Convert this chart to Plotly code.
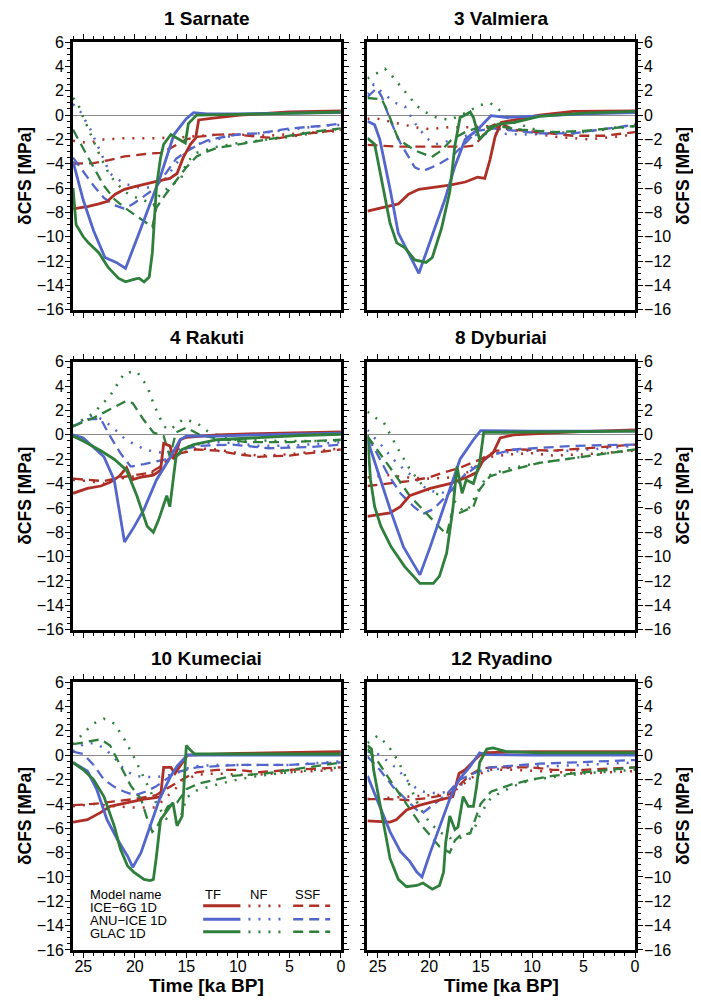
import plotly.graph_objects as go

# ---------------- data (time [ka BP], dCFS [MPa]) ----------------
SITES = ["1 Sarnate", "3 Valmiera", "4 Rakuti", "8 Dyburiai", "10 Kumeciai", "12 Ryadino"]
MODELS = ["ICE−6G 1D", "ANU−ICE 1D", "GLAC 1D"]
FAULTS = ["TF", "NF", "SSF"]
X_TICKS = [25, 20, 15, 10, 5, 0]
Y_TICKS = [6, 4, 2, 0, -2, -4, -6, -8, -10, -12, -14, -16]

# 1 Sarnate
SAR_ICE_TF = [(26,-7.7),(24.5,-7.5),(23.5,-7.3),(22.7,-7.1),(21.9,-6.5),(21,-6.1),(20.1,-5.9),(19,-5.7),(17.9,-5.45),(16.6,-5.2),(15.9,-4.8),(15.3,-3.5),(14.6,-2.4),(14.1,-1.9),(13.8,-0.4),(12.4,-0.25),(9.8,0.0),(5,0.25),(0,0.35)]
SAR_ANU_TF = [(26,-3.8),(25,-7.0),(24,-9.5),(22.9,-11.7),(21.8,-12.1),(20.9,-12.6),(19.5,-9.5),(18.5,-7.3),(17.5,-5.0),(16.2,-1.6),(15,-0.3),(14.3,0.2),(13,0.1),(10,0.1),(5,0.15),(0,0.2)]
SAR_GLAC_TF = [(26,-6.0),(25.7,-9.0),(25,-10.0),(24.5,-10.5),(23.5,-11.3),(22.6,-12.5),(21.6,-13.4),(20.9,-13.7),(20.1,-13.5),(19.6,-13.4),(19.1,-13.7),(18.6,-13.3),(18.3,-11.3),(17.9,-5.9),(17.5,-3.5),(17.2,-2.4),(16.5,-1.6),(15.1,-2.3),(14.8,-0.7),(14.0,0.0),(10,0.05),(5,0.15),(0,0.25)]
SAR_ICE_NF = [(26,-2.1),(25,-2.2),(24.5,-2.3),(23,-2.0),(21,-1.9),(18,-1.9),(15,-1.8),(12,-1.6),(10,-1.6),(7,-1.7),(4,-1.5),(0,-1.3)]
SAR_ANU_NF = [(26,0.9),(25.3,0.3),(24.3,-1.2),(23.3,-3.1),(22.4,-4.8),(21.1,-5.6),(20,-5.9),(19,-6.0),(18,-5.8),(17,-5.2),(16,-4.0),(15,-3.0),(14,-2.4),(12,-2.0),(10,-1.6),(8,-1.5),(5,-1.2),(2,-0.9),(0,-0.8)]
SAR_GLAC_NF = [(26,1.4),(25.6,1.1),(25.1,0.0),(24.3,-1.6),(23.3,-3.5),(22.4,-5.0),(21,-6.3),(20.1,-6.7),(19.1,-7.0),(18.2,-7.4),(17.6,-6.6),(16.8,-6.0),(16,-5.5),(15.5,-5.2),(15,-3.9),(14,-3.1),(12,-2.6),(10,-2.3),(8,-2.1),(5,-1.8),(2,-1.4),(0,-1.1)]
SAR_ICE_SSF = [(26,-4.0),(24,-3.95),(22.5,-3.7),(21,-3.4),(19,-3.2),(17.5,-3.1),(16.5,-2.7),(15.5,-2.2),(15,-2.0),(14,-1.8),(12,-1.6),(10,-1.6),(8,-1.8),(6,-1.9),(4,-1.6),(0,-1.2)]
SAR_ANU_SSF = [(26,-3.5),(25,-4.7),(24,-5.8),(23,-6.8),(22,-7.4),(21,-7.7),(20,-7.2),(19,-6.6),(18,-6.0),(17,-4.8),(16,-3.6),(15,-3.0),(14,-2.5),(13,-2.1),(12,-1.9),(10,-1.6),(8,-1.5),(5,-1.1),(2,-0.9),(0,-0.7)]
SAR_GLAC_SSF = [(26,-1.2),(25,-2.8),(24,-4.3),(23,-5.8),(22,-6.9),(21,-7.6),(20,-8.2),(19,-8.8),(18.3,-9.2),(17.9,-7.6),(17,-6.5),(16,-5.4),(15,-4.3),(14,-3.4),(13,-3.0),(12,-2.7),(10,-2.4),(8,-2.1),(5,-1.7),(2,-1.3),(0,-1.1)]

# 3 Valmiera
VAL_ICE_TF = [(26,-7.9),(24.4,-7.6),(23,-7.3),(22,-6.5),(21,-6.1),(18,-5.75),(16.5,-5.5),(15.3,-5.1),(14.6,-5.2),(14.1,-3.7),(13.6,-1.8),(13,-0.6),(11.8,-0.4),(9.3,0.0),(6,0.3),(0,0.35)]
VAL_ANU_TF = [(26,-0.5),(25.3,-0.8),(24.8,-2.0),(23.8,-6.1),(23,-9.7),(22,-11.3),(21,-13.0),(19.75,-10.0),(18.5,-7.0),(17.5,-4.2),(16.5,-2.0),(15.3,-1.2),(14,-0.05),(12.4,-0.2),(9.5,-0.1),(5,0.1),(0,0.2)]
VAL_GLAC_TF = [(26,-1.9),(25.3,-2.4),(23.8,-8.9),(23.15,-10.5),(22.35,-10.9),(21.4,-11.9),(20.3,-12.1),(19.7,-11.7),(18.8,-9.3),(18,-6.3),(17.5,-2.5),(17,-0.2),(16.5,0.0),(16,0.25),(15.7,-0.2),(15.1,-2.0),(14.3,-1.3),(13.3,-0.75),(11.7,-0.6),(9.3,-0.1),(5,0.15),(0,0.3)]
VAL_ICE_NF = [(26,-0.3),(25,-0.3),(23.5,-0.6),(21.4,-1.0),(20,-1.15),(18,-1.0),(16,-1.0),(14,-0.9),(12,-1.2),(9,-1.6),(7.6,-1.8),(4.4,-2.0),(2,-1.8),(0,-1.6)]
VAL_ANU_NF = [(26,1.7),(25.4,2.5),(24.5,1.8),(23.3,1.0),(22.35,0.7),(21.4,-0.65),(20.25,-1.9),(19.4,-2.4),(18,-2.1),(16.4,-1.7),(14,-1.5),(10.8,-1.6),(6,-1.5),(0,-0.8)]
VAL_GLAC_NF = [(26,3.0),(25.1,3.45),(24.3,3.8),(23.7,3.3),(23,2.6),(22.35,1.9),(21.2,0.75),(20.4,0.25),(19.3,-0.2),(18,-0.4),(16.4,0.2),(15.1,0.8),(14.1,1.0),(13.3,0.5),(11.8,-0.6),(9.3,-1.3),(6,-1.5),(0,-0.9)]
VAL_ICE_SSF = [(26,-2.45),(23,-2.6),(20,-2.6),(16.5,-2.6),(15.6,-2.5),(15,-1.9),(14.2,-1.0),(13.2,-0.6),(11.8,-1.2),(9.3,-1.4),(6,-1.7),(3,-1.7),(0,-1.4)]
VAL_ANU_SSF = [(26,1.5),(25.1,2.2),(24.6,1.5),(23.8,-0.4),(22.8,-2.3),(21.4,-4.3),(20.6,-4.6),(19.2,-4.1),(17.8,-3.4),(16.5,-2.3),(15.3,-1.3),(13.8,-1.1),(9.3,-1.5),(6,-1.5),(0,-0.8)]
VAL_GLAC_SSF = [(26,1.4),(24.6,1.3),(24,0.2),(23,-2.0),(21.4,-2.9),(19.75,-3.45),(18.8,-2.9),(17.8,-2.0),(16.5,-1.4),(15.5,-1.1),(13.5,-0.9),(11,-1.2),(8,-1.4),(5,-1.3),(0,-0.9)]

# 4 Rakuti
RAK_ICE_TF = [(26,-4.8),(24.6,-4.4),(23.3,-4.2),(22.4,-3.9),(21.5,-3.4),(20.8,-2.7),(20.3,-3.7),(19.5,-3.5),(18.2,-3.3),(17.5,-2.9),(17.2,-0.7),(16.6,-0.9),(16.2,-2.0),(15.6,-0.4),(15,-0.2),(12,0.0),(8,0.1),(4,0.2),(0,0.25)]
RAK_ANU_TF = [(26,0.0),(25,-0.25),(23,-1.8),(22,-3.7),(21,-8.8),(20.1,-7.6),(19.1,-6.1),(17.9,-3.7),(16.6,-1.9),(15.6,-0.4),(15,-0.1),(12,-0.1),(8,0.0),(4,0.1),(0,0.15)]
RAK_GLAC_TF = [(26,-0.1),(25,-0.5),(23.3,-1.3),(22,-2.0),(20.8,-2.9),(19.8,-5.0),(18.8,-7.5),(18.2,-8.0),(17.7,-7.0),(17.3,-5.9),(16.9,-5.0),(16.6,-5.9),(16.2,-3.1),(16,-1.8),(15.4,-1.2),(14.3,-0.8),(12,-0.4),(8,-0.2),(4,-0.05),(0,0.05)]
RAK_ICE_NF = [(26,-3.7),(24.5,-3.8),(23,-4.0),(21.5,-3.6),(20,-3.4),(18.5,-3.2),(17.5,-2.8),(16.6,-2.0),(15.5,-1.5),(14,-1.1),(12,-1.2),(10,-1.5),(8,-1.7),(5,-1.6),(2,-1.3),(0,-1.1)]
RAK_ANU_NF = [(26,0.7),(25,1.3),(24,1.6),(23,1.2),(22,0.5),(21,-0.3),(20,-0.8),(19,-1.2),(18,-1.4),(17,-1.5),(16,-1.3),(15,-1.0),(14,-0.8),(12,-0.6),(10,-0.7),(8,-0.9),(5,-0.9),(0,-0.6)]
RAK_GLAC_NF = [(26,0.7),(24,1.8),(22.4,3.2),(21,5.1),(19.8,5.2),(18.8,4.0),(18.2,2.6),(17.2,0.7),(16.6,0.4),(15.3,1.3),(14,1.0),(12.8,0.2),(10.5,-0.4),(6,-0.5),(0,-0.5)]
RAK_ICE_SSF = [(26,-3.6),(24.5,-3.7),(23,-3.8),(21.5,-3.5),(20,-3.3),(18.5,-3.1),(17.5,-2.6),(16.6,-1.9),(15.5,-1.5),(14,-1.2),(12,-1.3),(10,-1.6),(8,-1.8),(5,-1.7),(2,-1.4),(0,-1.2)]
RAK_ANU_SSF = [(26,0.7),(24.6,1.3),(23.3,1.3),(22.4,-0.1),(21.4,-1.5),(20.4,-2.6),(19.1,-2.4),(17.9,-2.2),(16.9,-2.0),(16,-1.8),(15,-1.1),(13.7,-0.9),(10.5,-0.8),(7,-1.1),(3,-1.0),(0,-0.8)]
RAK_GLAC_SSF = [(26,0.7),(24,1.4),(22.4,2.1),(20.8,2.8),(20.2,2.6),(19.2,1.3),(18.2,0.2),(17.2,-0.1),(16.6,-1.8),(16,0.2),(15,0.6),(13.7,0.0),(12,-0.3),(9,-0.6),(5,-0.6),(0,-0.4)]

# 8 Dyburiai
DYB_ICE_TF = [(26,-6.7),(23.8,-6.4),(22.8,-5.9),(21.9,-5.0),(19.9,-4.4),(18,-4.0),(16.4,-3.5),(15.4,-3.1),(14.7,-2.0),(13.8,-1.5),(13.1,-0.25),(11.8,0.0),(6,0.25),(0,0.4)]
DYB_ANU_TF = [(26,-0.4),(25.1,-2.8),(23.8,-6.1),(22.5,-9.2),(20.9,-11.5),(19.9,-9.2),(18.3,-5.3),(17,-2.0),(15.7,-0.4),(15,0.35),(10,0.3),(5,0.3),(0,0.3)]
DYB_GLAC_TF = [(26,0.0),(25.7,-3.7),(25.3,-5.9),(24.7,-7.5),(23.7,-9.2),(22.4,-10.8),(20.9,-12.2),(19.6,-12.2),(19,-11.6),(18.3,-9.7),(17.7,-6.1),(17.3,-2.6),(16.8,-4.8),(16.4,-3.7),(15.7,-4.0),(15.1,-2.3),(14.7,0.2),(10,0.25),(0,0.3)]
DYB_ICE_NF = [(26,-3.5),(24,-3.3),(22,-3.5),(20,-3.6),(18,-3.5),(16,-3.0),(15,-2.2),(14,-1.8),(12,-1.6),(10,-1.5),(8,-1.7),(5,-1.6),(0,-1.3)]
DYB_ANU_NF = [(26,0.4),(25.6,0.0),(24.8,-0.7),(23.5,-2.0),(22.5,-2.8),(21.2,-3.7),(20.2,-4.5),(18.9,-4.8),(17.6,-4.5),(16.4,-3.1),(15,-2.0),(13.4,-1.5),(10.7,-1.3),(6,-1.3),(0,-0.9)]
DYB_GLAC_NF = [(26,1.9),(25.4,1.5),(24.4,1.0),(23.2,-0.9),(21.9,-2.8),(20.6,-4.2),(19.6,-4.8),(18.3,-5.0),(17.3,-5.6),(16.7,-6.3),(16,-5.9),(15.4,-4.8),(14.4,-3.4),(12.5,-2.8),(9.3,-2.3),(6,-1.9),(0,-1.2)]
DYB_ICE_SSF = [(26,-4.2),(24,-4.0),(22,-3.8),(20,-3.5),(19,-3.2),(17,-2.7),(15,-2.0),(13.5,-1.3),(11,-1.2),(8,-1.3),(5,-1.1),(0,-0.8)]
DYB_ANU_SSF = [(26,-0.2),(25.4,-1.0),(24.1,-3.1),(22.8,-4.8),(21.5,-5.9),(20.6,-6.5),(19.6,-6.1),(18.3,-5.0),(16.7,-3.4),(15.4,-2.6),(14.1,-1.7),(11.8,-1.2),(6,-0.9),(0,-0.8)]
DYB_GLAC_SSF = [(26,-0.1),(24.8,-1.5),(23.2,-3.4),(21.9,-5.0),(20.3,-6.4),(19,-7.5),(18.3,-8.2),(17.7,-6.1),(17,-6.4),(15.7,-5.9),(15.1,-4.5),(14.1,-3.4),(12.5,-3.0),(9.3,-2.3),(6,-1.9),(0,-1.2)]

# 10 Kumeciai
KUM_ICE_TF = [(26,-5.5),(24.6,-5.3),(23.3,-4.7),(22.4,-4.2),(20.7,-3.9),(19.1,-3.6),(18.1,-3.5),(17.5,-3.4),(17.2,-1.0),(16.5,-1.0),(16.1,-1.5),(15.5,-0.7),(14.9,0.0),(10,0.15),(5,0.25),(0,0.3)]
KUM_ANU_TF = [(26,-0.6),(24.6,-1.3),(23.7,-2.8),(22.7,-5.3),(21.7,-6.9),(20.7,-8.3),(20.2,-9.2),(19.4,-8.0),(18.5,-5.8),(17.6,-3.6),(16.5,-1.7),(15.9,-0.9),(14.9,0.0),(10,0.0),(0,0.0)]
KUM_GLAC_TF = [(26,-0.6),(25,-1.2),(24,-2.0),(23,-3.4),(22,-5.8),(21.4,-7.7),(20.7,-9.1),(20.1,-9.6),(19.1,-10.2),(18.5,-10.3),(18.2,-10.2),(17.9,-8.3),(17.5,-5.3),(16.8,-4.5),(16.3,-3.9),(15.9,-5.8),(15.4,-5.0),(15,0.8),(14.7,0.5),(14.2,0.1),(10,0.1),(0,0.1)]
KUM_ICE_NF = [(26,-4.2),(24,-4.0),(22,-4.2),(20,-4.3),(18,-4.3),(17,-3.5),(16,-2.7),(15,-2.0),(14,-1.6),(12,-1.5),(10,-1.6),(8,-1.6),(5,-1.4),(0,-1.2)]
KUM_ANU_NF = [(26,0.3),(25,0.9),(24,1.0),(23,0.6),(22,-0.2),(21,-1.2),(20,-1.7),(19,-1.8),(18,-1.8),(17,-1.7),(16,-1.5),(15,-1.1),(14,-0.9),(12,-0.8),(10,-0.8),(8,-0.8),(5,-0.8),(0,-0.5)]
KUM_GLAC_NF = [(26,0.9),(25,1.8),(24,2.6),(23,3.0),(22,2.6),(21,1.3),(20,-0.3),(19,-2.0),(18,-3.8),(17,-5.2),(16,-5.5),(15.5,-5.0),(15,-3.5),(14,-2.9),(12,-2.4),(10,-2.0),(8,-1.7),(5,-1.4),(0,-1.0)]
KUM_ICE_SSF = [(26,-4.1),(24,-4.0),(22,-3.8),(20,-3.6),(18,-3.3),(17,-2.8),(16,-2.3),(15,-1.8),(14,-1.4),(12,-1.2),(10,-1.2),(8,-1.4),(5,-1.2),(0,-1.0)]
KUM_ANU_SSF = [(26,0.3),(25,0.1),(24,-0.8),(23,-2.0),(22,-2.6),(21,-3.0),(20,-3.3),(19,-3.0),(18,-2.6),(17,-2.0),(16,-1.4),(15,-1.2),(14,-1.0),(12,-0.9),(10,-0.8),(8,-0.8),(5,-0.8),(0,-0.6)]
KUM_GLAC_SSF = [(26,0.9),(24.6,1.1),(23.3,1.3),(22.4,0.8),(21.4,-0.9),(20.4,-2.5),(19.4,-3.6),(18.8,-5.2),(18.3,-6.3),(17.8,-5.8),(16.8,-4.2),(15.9,-3.9),(15,-2.8),(13.7,-2.3),(10.5,-1.7),(7.3,-1.5),(0,-0.6)]

# 12 Ryadino
RYA_ICE_TF = [(26,-5.4),(23.8,-5.5),(23.2,-5.3),(22.2,-4.5),(20.9,-4.1),(19,-3.7),(17.7,-3.4),(17.1,-1.5),(16.5,-1.2),(15.7,-0.5),(15.1,0.0),(14.5,0.2),(10,0.3),(0,0.3)]
RYA_ANU_TF = [(26,-1.7),(25.1,-3.6),(23.8,-6.3),(22.8,-7.9),(21.9,-8.7),(21.2,-9.6),(20.7,-10.0),(19.9,-8.0),(19,-5.9),(18,-3.6),(17.1,-2.0),(16.1,-1.0),(15.1,0.2),(14.5,0.05),(10,0.0),(0,0.0)]
RYA_GLAC_TF = [(26,0.8),(25.6,0.5),(25.4,-1.2),(24.4,-5.8),(23.8,-8.5),(23,-10.2),(22.2,-10.8),(21.2,-10.7),(20.6,-10.5),(19.7,-11.0),(19,-10.7),(18.6,-9.6),(18.4,-7.2),(18,-5.0),(17.5,-6.1),(17.2,-5.9),(16.7,-3.4),(16.2,-4.2),(15.7,-4.2),(15.4,-2.6),(15.1,-0.6),(14.4,0.5),(13.8,0.6),(12.5,0.3),(9.3,0.2),(0,0.2)]
RYA_ICE_NF = [(26,-3.6),(24,-3.5),(22,-3.4),(20,-3.3),(18,-3.2),(17,-2.6),(16,-1.9),(15,-1.5),(14,-1.2),(12,-1.2),(10,-1.3),(8,-1.4),(5,-1.5),(0,-1.3)]
RYA_ANU_NF = [(26,0.3),(25,0.1),(24,-0.5),(23,-1.2),(22,-2.2),(21,-2.9),(20,-3.1),(19,-3.1),(18,-3.0),(17,-2.5),(16,-1.9),(15,-1.5),(14,-1.2),(12,-1.0),(10,-0.9),(8,-0.9),(5,-0.8),(0,-0.6)]
RYA_GLAC_NF = [(26,1.0),(25,1.6),(24,0.8),(23,-0.5),(22,-2.3),(21,-4.2),(20,-5.5),(19,-6.3),(18,-6.8),(17,-6.8),(16,-6.4),(15.5,-5.8),(15,-4.8),(14,-3.5),(12,-2.6),(10,-2.0),(8,-1.8),(5,-1.5),(0,-1.2)]
RYA_ICE_SSF = [(26,-3.6),(24,-3.6),(22,-3.7),(20,-3.5),(18,-3.2),(17,-2.4),(16,-1.6),(15,-1.1),(14,-1.0),(12,-1.0),(10,-1.0),(8,-1.2),(5,-1.2),(0,-1.0)]
RYA_ANU_SSF = [(26,-0.1),(24.8,-1.2),(23.5,-2.6),(22.2,-3.7),(21.2,-4.5),(20.7,-4.8),(19.5,-4.0),(18.3,-3.2),(17,-2.0),(15.7,-1.5),(14.1,-1.0),(9.3,-0.7),(0,-0.4)]
RYA_GLAC_SSF = [(26,0.5),(25,-0.5),(24,-1.8),(23,-3.0),(22,-4.3),(21,-5.5),(20,-6.5),(19,-7.5),(18,-8.0),(17.5,-7.0),(17,-6.6),(16,-6.4),(15.5,-5.2),(15,-4.0),(14,-3.0),(12,-2.4),(10,-2.0),(8,-1.7),(5,-1.4),(0,-1.0)]

SITE_DATA = [
    [[SAR_ICE_TF, SAR_ICE_NF, SAR_ICE_SSF], [SAR_ANU_TF, SAR_ANU_NF, SAR_ANU_SSF], [SAR_GLAC_TF, SAR_GLAC_NF, SAR_GLAC_SSF]],
    [[VAL_ICE_TF, VAL_ICE_NF, VAL_ICE_SSF], [VAL_ANU_TF, VAL_ANU_NF, VAL_ANU_SSF], [VAL_GLAC_TF, VAL_GLAC_NF, VAL_GLAC_SSF]],
    [[RAK_ICE_TF, RAK_ICE_NF, RAK_ICE_SSF], [RAK_ANU_TF, RAK_ANU_NF, RAK_ANU_SSF], [RAK_GLAC_TF, RAK_GLAC_NF, RAK_GLAC_SSF]],
    [[DYB_ICE_TF, DYB_ICE_NF, DYB_ICE_SSF], [DYB_ANU_TF, DYB_ANU_NF, DYB_ANU_SSF], [DYB_GLAC_TF, DYB_GLAC_NF, DYB_GLAC_SSF]],
    [[KUM_ICE_TF, KUM_ICE_NF, KUM_ICE_SSF], [KUM_ANU_TF, KUM_ANU_NF, KUM_ANU_SSF], [KUM_GLAC_TF, KUM_GLAC_NF, KUM_GLAC_SSF]],
    [[RYA_ICE_TF, RYA_ICE_NF, RYA_ICE_SSF], [RYA_ANU_TF, RYA_ANU_NF, RYA_ANU_SSF], [RYA_GLAC_TF, RYA_GLAC_NF, RYA_GLAC_SSF]],
]

# ---------------- styling ----------------
COLORS = ["#ad2f26", "#5366cb", "#2e7f3b"]
DASHES = {"TF": "solid", "NF": "2px,8px", "SSF": "10px,6px"}
WIDTHS = {"TF": 2.8, "NF": 2.5, "SSF": 2.3}
FONT = "Liberation Sans, Arial, Helvetica, sans-serif"

# page body has an 8px margin: work in window pixels, convert to figure pixels
OFF = 8
W, H = 701 - OFF, 1003 - OFF
COL_X = [(72.7, 340.7), (367.3, 635.0)]       # window pixels
ROW_Y = [(42.0, 310.0), (362.0, 630.0), (682.5, 950.5)]
ML = COL_X[0][0] - OFF
MR = W - (COL_X[1][1] - OFF)
MT = ROW_Y[0][0] - OFF
MB = H - (ROW_Y[2][1] - OFF)
PW, PH = W - ML - MR, H - MT - MB


def xdom(c):
    a, b = COL_X[c]
    return [max(0, (a - OFF - ML) / PW), min(1, (b - OFF - ML) / PW)]


def ydom(r):
    a, b = ROW_Y[r]
    return [max(0, (H - MB - (b - OFF)) / PH), min(1, (H - MB - (a - OFF)) / PH)]


fig = go.Figure()
layout = dict(
    width=W, height=H,
    margin=dict(l=ML, r=MR, t=MT, b=MB, pad=0, autoexpand=False),
    plot_bgcolor="white", paper_bgcolor="white",
    showlegend=False,
    font=dict(family=FONT, size=16, color="black"),
)
annotations = []
shapes = []

for i, site in enumerate(SITES):
    r, c = divmod(i, 2)
    n = i + 1
    xa = "x" if n == 1 else f"x{n}"
    ya = "y" if n == 1 else f"y{n}"
    for fi in [1, 2, 0]:
        for mi in range(3):
            pts = SITE_DATA[i][mi][fi]
            fault = FAULTS[fi]
            fig.add_trace(go.Scatter(
                x=[p[0] for p in pts], y=[p[1] for p in pts],
                mode="lines", xaxis=xa, yaxis=ya,
                line=dict(color=COLORS[mi], width=WIDTHS[fault], dash=DASHES[fault]),
                name=f"{MODELS[mi]} {fault}", hoverinfo="skip",
            ))
    bottom = (r == 2)
    layout[f"xaxis{n if n > 1 else ''}"] = dict(
        domain=xdom(c), anchor=ya, range=[26, 0],
        tickmode="array", tickvals=X_TICKS, showticklabels=bottom,
        ticks="outside", ticklen=5, tickwidth=1.3, tickcolor="black",
        ticklabelstandoff=-5,
        minor=dict(dtick=1, tick0=0, ticks="outside", ticklen=3, tickwidth=1, tickcolor="black"),
        showline=True, linewidth=2.8, linecolor="black", mirror="ticks",
        showgrid=False, zeroline=False,
        tickfont=dict(family=FONT, size=16, color="black"),
    )
    layout[f"yaxis{n if n > 1 else ''}"] = dict(
        domain=ydom(r), anchor=xa, range=[-16, 6],
        side="left" if c == 0 else "right",
        tickmode="array", tickvals=Y_TICKS,
        ticks="outside", ticklen=5, tickwidth=1.3, tickcolor="black",
        ticklabelstandoff=-2,
        minor=dict(dtick=0.5, tick0=0, ticks="outside", ticklen=3, tickwidth=1, tickcolor="black"),
        showline=True, linewidth=2.8, linecolor="black", mirror="ticks",
        showgrid=False, zeroline=True, zerolinecolor="#8c8c8c", zerolinewidth=1.2,
        tickfont=dict(family=FONT, size=16, color="black"),
    )
    annotations.append(dict(
        text=site, xref=f"{xa} domain", yref=f"{ya} domain", x=0.5, y=1, yshift=24,
        showarrow=False, xanchor="center", yanchor="middle",
        font=dict(family=FONT, size=19, color="black", weight="bold"),
    ))
    annotations.append(dict(
        text="δCFS [MPa]", xref=f"{xa} domain", yref=f"{ya} domain",
        x=0 if c == 0 else 1, xshift=-48 if c == 0 else 48, y=0.5,
        textangle=-90, showarrow=False, xanchor="center", yanchor="middle",
        font=dict(family=FONT, size=17.5, color="black", weight="bold"),
    ))
    if bottom:
        annotations.append(dict(
            text="Time [ka BP]", xref=f"{xa} domain", yref=f"{ya} domain",
            x=0.5, y=0, yshift=-35, showarrow=False, xanchor="center", yanchor="middle",
            font=dict(family=FONT, size=19, color="black", weight="bold"),
        ))

# ---------------- legend inside "10 Kumeciai" panel ----------------
LXA, LYA = "x5 domain", "y5 domain"
LEG_FONT = dict(family=FONT, size=13, color="black")
annotations.append(dict(text="Model name", xref=LXA, yref=LYA, x=0.055, y=0.207,
                        showarrow=False, xanchor="left", yanchor="middle", font=LEG_FONT))
row_y = [0.165, 0.115, 0.068]
for mi, m in enumerate(MODELS):
    annotations.append(dict(text=m, xref=LXA, yref=LYA, x=0.055, y=row_y[mi] - 0.005,
                            showarrow=False, xanchor="left", yanchor="middle", font=LEG_FONT))
col_x = [(0.486, 0.625), (0.655, 0.780), (0.822, 0.960)]
for fi, f in enumerate(FAULTS):
    annotations.append(dict(text=f, xref=LXA, yref=LYA, x=col_x[fi][0], y=0.207,
                            showarrow=False, xanchor="left", yanchor="middle", font=LEG_FONT))
    for mi in range(3):
        shapes.append(dict(type="line", xref=LXA, yref=LYA,
                           x0=col_x[fi][0], x1=col_x[fi][1], y0=row_y[mi], y1=row_y[mi],
                           line=dict(color=COLORS[mi], width=WIDTHS[f] + 0.3, dash=DASHES[f])))

layout["annotations"] = annotations
layout["shapes"] = shapes
fig.update_layout(**layout)
fig.write_html("out.html")
